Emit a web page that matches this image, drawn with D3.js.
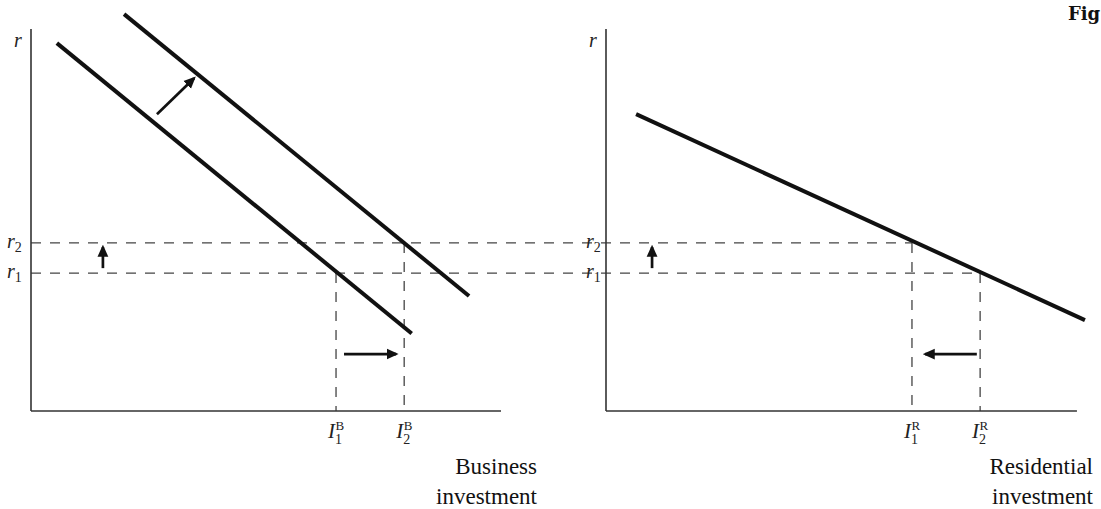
<!DOCTYPE html>
<html><head><meta charset="utf-8">
<script src="https://cdn.jsdelivr.net/npm/d3@7"></script>
<style>html,body{margin:0;padding:0;background:#fff;}svg{display:block;}</style>
</head><body>
<script>
// ---- data (abstract units: x 0..10 along each panel's axis, y 0..10 = r) ----
const rLevels = [3.61, 4.40];                 // r1, r2
const rLabels = ["1", "2"];
const businessTicks = [6.49, 7.94];           // I1B, I2B
const residentialTicks = [6.51, 7.96];        // I1R, I2R
const tickSubs = ["1", "2"];
const businessCurve1 = [[0.55, 9.63], [8.10, 2.03]];
const businessCurve2 = [[1.98, 10.39], [9.32, 3.01]];
const residentialCurve = [[0.64, 7.77], [10.19, 2.38]];
const leftArrows = [
  [[2.68, 7.77], [3.47, 8.71]],
  [[1.53, 3.74], [1.53, 4.29]],
  [[6.66, 1.49], [7.77, 1.49]]
];
const rightArrows = [
  [[0.98, 3.74], [0.98, 4.29]],
  [[7.89, 1.49], [6.79, 1.49]]
];
const axisTitles = [["Business", "investment"], ["Residential", "investment"]];

// ---- layout ----
const W = 1101, H = 509;
const svg = d3.select("body").append("svg").attr("width", W).attr("height", H);
const y = d3.scaleLinear().domain([0, 10]).range([411, 29]);
const xL = d3.scaleLinear().domain([0, 10]).range([31, 501]);
const xR = d3.scaleLinear().domain([0, 10]).range([606, 1076]);
const serif = "'Liberation Serif','Times New Roman',serif";

svg.append("defs").append("marker")
  .attr("id", "ah").attr("viewBox", "0 0 10 10").attr("refX", 8).attr("refY", 5)
  .attr("markerWidth", 12).attr("markerHeight", 12).attr("markerUnits", "userSpaceOnUse")
  .attr("orient", "auto")
  .append("path").attr("d", "M0,0.5 L10,5 L0,9.5 Z").attr("fill", "#111");

// dashed guides (drawn first)
const dash = svg.append("g").attr("stroke", "#444").attr("stroke-width", 1.3)
  .attr("stroke-dasharray", "10,9").attr("fill", "none");
dash.append("line").attr("x1", xL(0)).attr("x2", xR(residentialTicks[0]))
  .attr("y1", y(rLevels[1])).attr("y2", y(rLevels[1]));
dash.append("line").attr("x1", xL(0)).attr("x2", xR(residentialTicks[1]))
  .attr("y1", y(rLevels[0])).attr("y2", y(rLevels[0]));
businessTicks.forEach((t, i) => {
  dash.append("line").attr("x1", xL(t)).attr("x2", xL(t))
    .attr("y1", y(rLevels[i])).attr("y2", y(0));
});
residentialTicks.forEach((t, i) => {
  dash.append("line").attr("x1", xR(t)).attr("x2", xR(t))
    .attr("y1", y(rLevels[1 - i])).attr("y2", y(0));
});

// axes
function drawAxes(x, xmax) {
  const g = svg.append("g").attr("stroke", "#333").attr("stroke-width", 1.6);
  g.append("line").attr("x1", x(0)).attr("x2", x(0)).attr("y1", y(10)).attr("y2", y(0));
  g.append("line").attr("x1", x(0)).attr("x2", x(xmax)).attr("y1", y(0)).attr("y2", y(0));
}
drawAxes(xL, 10);
drawAxes(xR, 10.02);

// curves
const line = (x) => d3.line().x(d => x(d[0])).y(d => y(d[1]));
[businessCurve1, businessCurve2].forEach(c => {
  svg.append("path").attr("d", line(xL)(c)).attr("stroke", "#111")
    .attr("stroke-width", 4).attr("fill", "none");
});
svg.append("path").attr("d", line(xR)(residentialCurve)).attr("stroke", "#111")
  .attr("stroke-width", 4).attr("fill", "none");

// arrows
function arrows(list, x) {
  list.forEach(a => {
    svg.append("line").attr("x1", x(a[0][0])).attr("y1", y(a[0][1]))
      .attr("x2", x(a[1][0])).attr("y2", y(a[1][1]))
      .attr("stroke", "#111").attr("stroke-width", 2.7).attr("marker-end", "url(#ah)");
  });
}
arrows(leftArrows, xL);
arrows(rightArrows, xR);

// r labels
function rAxisLabels(x, dx) {
  svg.append("text").attr("x", x(0) - 17).attr("y", 47).attr("font-family", serif)
    .attr("font-style", "italic").attr("font-size", 20).attr("fill", "#222").text("r");
  rLevels.forEach((r, i) => {
    const t = svg.append("text").attr("x", x(0) - dx).attr("y", y(r) + 5)
      .attr("font-family", serif).attr("fill", "#222");
    t.append("tspan").attr("font-style", "italic").attr("font-size", 20).text("r");
    t.append("tspan").attr("font-size", 14).attr("dy", 4).text(rLabels[i]);
  });
}
rAxisLabels(xL, 24);
rAxisLabels(xR, 20);

// tick labels I_n^B / I_n^R
function tickLabels(ticks, x, sup) {
  ticks.forEach((t, i) => {
    const cx = x(t);
    svg.append("text").attr("x", cx - 1).attr("y", 438).attr("text-anchor", "end")
      .attr("font-family", serif).attr("font-style", "italic").attr("font-size", 21)
      .attr("fill", "#222").text("I");
    svg.append("text").attr("x", cx - 1).attr("y", 444).attr("font-family", serif)
      .attr("font-size", 14).attr("fill", "#222").text(tickSubs[i]);
    svg.append("text").attr("x", cx - 0.5).attr("y", 430).attr("font-family", serif)
      .attr("font-size", 13).attr("fill", "#222").text(sup);
  });
}
tickLabels(businessTicks, xL, "B");
tickLabels(residentialTicks, xR, "R");

// axis titles
[[537, axisTitles[0]], [1093, axisTitles[1]]].forEach(([xx, lines]) => {
  lines.forEach((s, i) => {
    svg.append("text").attr("x", xx).attr("y", 474 + i * 30).attr("text-anchor", "end")
      .attr("font-family", serif).attr("font-size", 23).attr("fill", "#111").text(s);
  });
});

// clipped figure caption
svg.append("text").attr("x", 1068).attr("y", 20).attr("font-family", "'DejaVu Serif',serif")
  .attr("font-weight", "bold").attr("font-size", 18).attr("fill", "#111").text("Fig");
</script>
</body></html>
